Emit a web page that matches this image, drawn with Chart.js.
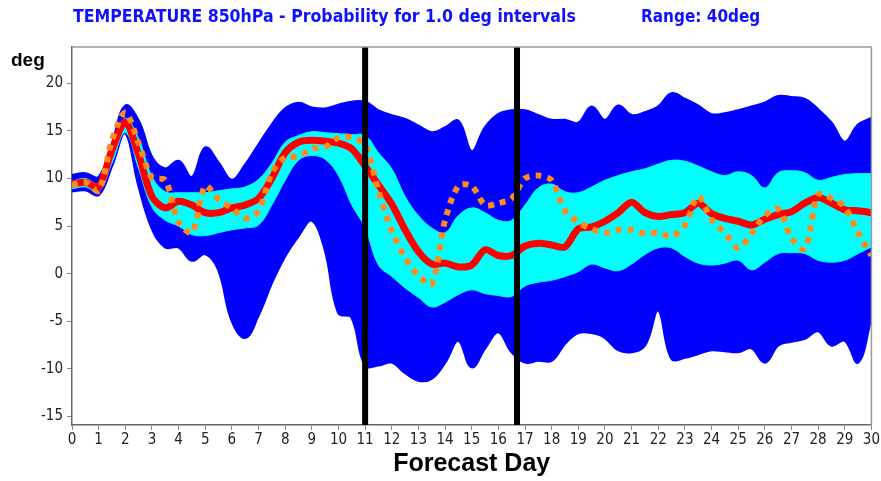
<!DOCTYPE html>
<html>
<head>
<meta charset="utf-8">
<title>Temperature 850hPa</title>
<script src="https://cdn.jsdelivr.net/npm/chart.js@4/dist/chart.umd.min.js"></script>
<style>
  html, body { margin: 0; padding: 0; background: #fff; }
  #wrap { position: relative; width: 881px; height: 481px; overflow: hidden; }
  .lbl { position: absolute; white-space: pre; transform-origin: left top; }
  .ttl { font: bold 18px 'Liberation Sans Narrow', 'DejaVu Sans Condensed', 'Liberation Sans', sans-serif; color: #1010ff; line-height: 18px; top: 7px; }
  #deg { left: 11px; top: 50px; font: bold 19px 'Liberation Sans', sans-serif; line-height: 19px; color: #000; }
</style>
</head>
<body>
<div id="wrap">
  <canvas id="chart" width="881" height="481"></canvas>
  <div class="lbl ttl" id="ttlMain" style="left:73px">TEMPERATURE 850hPa - Probability for 1.0 deg intervals</div>
  <div class="lbl ttl" id="ttlRange" style="left:641px">Range: 40deg</div>
  <div class="lbl" id="deg">deg</div>
</div>
<script>
// forecast days (half-day steps)
const days = [0, 0.5, 1, 1.5, 2, 2.5, 3, 3.5, 4, 4.5, 5, 5.5, 6, 6.5, 7, 7.5, 8, 8.5, 9, 9.5,
  10, 10.5, 11, 11.5, 12, 12.5, 13, 13.5, 14, 14.5, 15, 15.5, 16, 16.5, 17, 17.5, 18, 18.5, 19, 19.5,
  20, 20.5, 21, 21.5, 22, 22.5, 23, 23.5, 24, 24.5, 25, 25.5, 26, 26.5, 27, 27.5, 28, 28.5, 29, 29.5, 30];

// ensemble envelope (min / max)
const ensMax = [10.3, 10.5, 10.1, 13.5, 17.6, 16.0, 12.2, 11.0, 11.8, 10.1, 13.2, 11.6, 9.8, 11.4, 13.5, 15.6, 17.3, 17.9, 17.4, 17.3,
  17.7, 18.0, 18.0, 17.1, 16.6, 16.2, 15.5, 14.8, 15.3, 16.0, 12.8, 15.3, 16.7, 17.1, 17.1, 16.6, 16.1, 16.1, 15.8, 17.5,
  16.1, 17.6, 16.6, 16.9, 17.5, 18.9, 18.3, 17.6, 16.7, 16.8, 17.1, 17.5, 17.9, 18.6, 18.5, 18.3, 17.2, 15.8, 13.8, 15.6, 16.3];
const ensMin = [8.7, 8.8, 8.3, 11.4, 14.8, 9.3, 4.8, 2.8, 2.8, 1.4, 2.1, 0.4, -4.9, -6.7, -4.3, -0.9, 1.9, 4.0, 5.6, 2.5,
  -4.1, -4.6, -9.6, -9.6, -9.3, -10.4, -11.2, -11.0, -9.3, -7.0, -9.8, -7.8, -6.1, -8.2, -9.3, -9.1, -9.1, -7.3, -6.2, -6.2,
  -6.7, -8.0, -8.2, -7.5, -3.8, -8.9, -8.8, -8.4, -8.0, -8.1, -8.2, -7.8, -9.3, -7.5, -7.1, -6.8, -6.0, -7.5, -7.0, -9.3, -4.5];

// inner probability band
const bandHi = [9.7, 10.0, 9.5, 13.2, 16.3, 14.2, 10.2, 8.6, 8.5, 8.5, 8.5, 8.7, 8.9, 9.1, 9.9, 11.6, 13.8, 14.5, 14.9, 14.8,
  14.7, 14.6, 14.5, 12.7, 11.0, 8.1, 6.1, 4.8, 4.3, 6.1, 6.9, 6.4, 5.6, 5.6, 7.2, 9.0, 9.4, 8.6, 8.5, 9.1,
  9.8, 10.3, 10.7, 11.0, 11.5, 11.9, 11.8, 11.3, 10.7, 10.3, 10.7, 10.3, 9.0, 10.6, 10.8, 10.6, 9.8, 10.1, 10.4, 10.5, 10.5];
const bandLo = [8.9, 9.1, 8.6, 11.6, 14.8, 11.0, 7.0, 5.6, 5.0, 4.1, 4.0, 4.3, 4.6, 4.8, 5.1, 7.2, 9.8, 11.9, 12.4, 12.0,
  10.3, 7.2, 4.8, 0.9, -0.3, -1.5, -2.5, -3.5, -3.0, -2.2, -1.7, -2.1, -2.3, -2.4, -1.3, -0.9, -0.7, -0.3, 0.2, 1.0,
  0.6, 0.3, 1.0, 2.0, 2.7, 2.7, 1.8, 1.1, 0.9, 1.1, 1.4, 0.4, 1.2, 2.1, 2.2, 2.1, 1.4, 1.2, 1.4, 2.1, 2.8];

// ensemble median and control run
const median = [9.4, 9.6, 9.1, 13.0, 15.9, 12.5, 8.1, 6.9, 7.6, 7.2, 6.4, 6.4, 6.9, 7.2, 7.9, 10.0, 12.7, 13.8, 14.0, 13.9,
  13.7, 13.1, 11.3, 9.3, 7.3, 4.6, 2.3, 1.0, 1.1, 0.7, 0.9, 2.5, 1.9, 1.9, 2.9, 3.2, 3.0, 2.8, 4.7, 4.9,
  5.5, 6.4, 7.5, 6.4, 6.0, 6.2, 6.4, 7.4, 6.3, 5.8, 5.5, 5.1, 5.7, 6.2, 6.5, 7.4, 8.0, 7.4, 6.7, 6.6, 6.4];
const control = [9.3, 9.6, 8.7, 14.0, 16.9, 13.7, 10.1, 9.8, 5.4, 4.3, 9.2, 7.8, 6.9, 5.8, 6.6, 10.6, 12.2, 12.3, 13.1, 13.3,
  14.3, 14.3, 13.5, 8.7, 4.5, 1.7, -0.2, -1.1, 5.6, 9.2, 9.2, 7.2, 7.4, 7.9, 10.0, 10.3, 9.8, 6.6, 5.4, 4.7,
  4.3, 4.6, 4.6, 4.2, 4.3, 3.9, 5.1, 8.1, 5.7, 4.3, 2.7, 4.2, 6.1, 6.8, 3.7, 2.6, 8.3, 7.9, 7.0, 4.3, 1.9];

// vertical markers (days)
const markerDays = [11, 16.7];

// axis ticks
const xTicks = [0, 1, 2, 3, 4, 5, 6, 7, 8, 9, 10, 11, 12, 13, 14, 15, 16, 17, 18, 19, 20, 21, 22, 23, 24, 25, 26, 27, 28, 29, 30];
const yTicks = [-15, -10, -5, 0, 5, 10, 15, 20];
const yMin = -15.9, yMax = 23.8;

const BLUE = '#0000ff';
const CYAN = '#00ffff';
const RED = '#ff0000';
const ORANGE = '#ff8a1c';
const TICK_FONT = "'Liberation Sans Narrow', 'DejaVu Sans Condensed', 'Liberation Sans', sans-serif";

const xy = arr => days.map((d, i) => ({ x: d, y: arr[i] }));

// fit title width to the original layout
function fitWidth(id, w) {
  const el = document.getElementById(id);
  el.style.transform = 'scaleX(' + (w / el.offsetWidth) + ')';
}
fitWidth('ttlMain', 503);
fitWidth('ttlRange', 119);

// frame around the plot area (top / right edges)
const framePlugin = {
  id: 'frame',
  afterDraw(chart) {
    const { ctx, chartArea: a } = chart;
    ctx.save();
    ctx.strokeStyle = '#9a9a9a';
    ctx.lineWidth = 1.5;
    ctx.beginPath();
    ctx.moveTo(a.left, a.top);
    ctx.lineTo(a.right, a.top);
    ctx.lineTo(a.right, a.bottom);
    ctx.stroke();
    ctx.restore();
  }
};

const bandStyle = (color, order) => ({
  borderColor: color,
  backgroundColor: color,
  borderWidth: 3,
  pointRadius: 0,
  tension: 0.4,
  order
});

const datasets = [
  Object.assign({ label: 'max', data: xy(ensMax), fill: '+1' }, bandStyle(BLUE, 9)),
  Object.assign({ label: 'min', data: xy(ensMin), fill: false }, bandStyle(BLUE, 8)),
  Object.assign({ label: 'hi', data: xy(bandHi), fill: '+1' }, bandStyle(CYAN, 7), { borderWidth: 1 }),
  Object.assign({ label: 'lo', data: xy(bandLo), fill: false }, bandStyle(CYAN, 6), { borderWidth: 1 }),
  {
    label: 'median', data: xy(median), borderColor: RED, borderWidth: 7,
    pointRadius: 0, tension: 0.3, fill: false, order: 5
  },
  {
    label: 'control', data: xy(control), borderColor: ORANGE, borderWidth: 6,
    borderDash: [6, 6], borderCapStyle: 'butt',
    pointRadius: 0, tension: 0.3, fill: false, order: 4
  }
];

markerDays.forEach((d, i) => {
  datasets.push({
    label: 'marker' + i,
    data: [{ x: d, y: yMin }, { x: d, y: yMax }],
    borderColor: '#000', borderWidth: 6, borderCapStyle: 'butt',
    pointRadius: 0, fill: false, order: 1
  });
});

new Chart(document.getElementById('chart'), {
  type: 'line',
  data: { datasets },
  plugins: [framePlugin],
  options: {
    responsive: false,
    animation: false,
    layout: { padding: { top: 47, right: 9, left: 0, bottom: 0 } },
    plugins: {
      legend: { display: false },
      tooltip: { enabled: false }
    },
    scales: {
      x: {
        type: 'linear',
        min: 0,
        max: 30,
        afterBuildTicks: s => { s.ticks = xTicks.map(v => ({ value: v })); },
        afterFit: s => { s.height = 56; },
        grid: { drawOnChartArea: false, tickLength: 5, color: '#888' },
        border: { color: '#666', width: 1.5 },
        ticks: {
          color: '#222', padding: 1, maxRotation: 0, autoSkip: false,
          font: { family: TICK_FONT, size: 15 }
        },
        title: {
          display: true, text: 'Forecast Day', color: '#000',
          font: { family: "'Liberation Sans', sans-serif", size: 25, weight: 'bold' },
          padding: { top: 0, bottom: 2 }
        }
      },
      y: {
        min: yMin,
        max: yMax,
        afterBuildTicks: s => { s.ticks = yTicks.map(v => ({ value: v })); },
        afterFit: s => { s.width = 72; },
        grid: { drawOnChartArea: false, tickLength: 5, color: '#888' },
        border: { color: '#666', width: 1.5 },
        ticks: {
          color: '#222', padding: 4,
          font: { family: TICK_FONT, size: 15 }
        }
      }
    }
  }
});
</script>
</body>
</html>
